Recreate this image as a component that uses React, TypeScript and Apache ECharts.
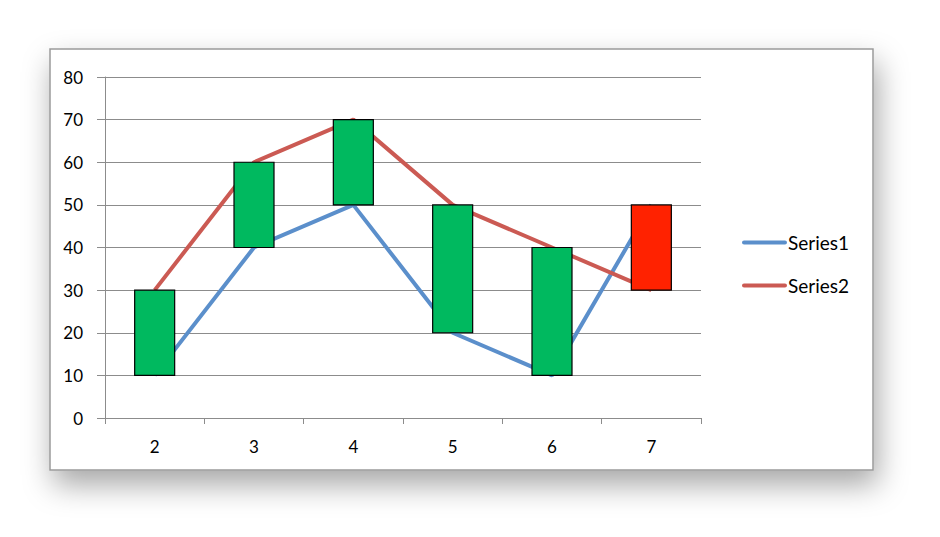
import React, { useEffect, useRef } from "react";
import * as echarts from "echarts";

const categories = ["2", "3", "4", "5", "6", "7"];
const series1 = [10, 40, 50, 20, 10, 50];
const series2 = [30, 60, 70, 50, 40, 30];
const yTicks = { min: 0, max: 80, interval: 10 };

const FONT = "Lato, 'Open Sans', sans-serif";
const LINE_ICON = "path://M2,0 L42,0 A2,2 0 0 1 42,4 L2,4 A2,2 0 0 1 2,0 Z";

export default function App() {
  const ref = useRef<HTMLDivElement>(null);
  useEffect(() => {
    if (!ref.current) return;
    const chart = echarts.init(ref.current, undefined, { renderer: "svg" });
    const barData = categories.map((c, i) => [i, series1[i], series2[i]]);
    const legendBase = {
      orient: "vertical",
      left: 737,
      itemWidth: 45,
      itemHeight: 4.5,
      icon: LINE_ICON,
      textStyle: { color: "#000", fontSize: 19, fontFamily: FONT, padding: [0, 0, 0, -4] },
    };
    chart.setOption({
      animation: false,
      backgroundColor: "#ffffff",
      graphic: [
        {
          type: "rect",
          z: -10,
          silent: true,
          shape: { x: 50, y: 49, width: 823, height: 421 },
          style: {
            fill: "#ffffff",
            stroke: "#9a9a9a",
            lineWidth: 1.5,
            shadowBlur: 30,
            shadowOffsetX: 4,
            shadowOffsetY: 14,
            shadowColor: "rgba(0,0,0,0.35)",
          },
        },
      ],
      grid: { left: 105, right: 239, top: 77, bottom: 119, containLabel: false },
      xAxis: {
        type: "category",
        data: categories,
        boundaryGap: true,
        axisLine: { show: true, lineStyle: { color: "#8c8c8c", width: 1 } },
        axisTick: { show: true, length: 6, lineStyle: { color: "#8c8c8c" } },
        axisLabel: { color: "#000", fontSize: 17, fontFamily: FONT, margin: 20 },
        splitLine: { show: false },
      },
      yAxis: {
        type: "value",
        min: yTicks.min,
        max: yTicks.max,
        interval: yTicks.interval,
        axisLine: { show: true, lineStyle: { color: "#8c8c8c", width: 1 } },
        axisTick: { show: true, length: 8, lineStyle: { color: "#8c8c8c" } },
        axisLabel: {
          color: "#000",
          fontSize: 17,
          fontFamily: FONT,
          margin: 22,
          padding: [4, 0, 0, 0],
        },
        splitLine: { show: true, lineStyle: { color: "#8c8c8c", width: 1 } },
      },
      legend: [
        { ...legendBase, top: 228, data: ["Series1"] },
        { ...legendBase, top: 271, data: ["Series2"] },
      ],
      series: [
        {
          name: "Series1",
          type: "line",
          data: series1,
          symbol: "none",
          lineStyle: { color: "#5B8FCB", width: 4 },
          itemStyle: { color: "#5B8FCB" },
          z: 2,
        },
        {
          name: "Series2",
          type: "line",
          data: series2,
          symbol: "none",
          lineStyle: { color: "#CB5A53", width: 4 },
          itemStyle: { color: "#CB5A53" },
          z: 2,
        },
        {
          name: "UpDown",
          type: "custom",
          z: 5,
          data: barData,
          encode: { x: 0, y: [1, 2] },
          renderItem: (params: any, api: any) => {
            const idx = api.value(0);
            const a = api.value(1);
            const b = api.value(2);
            const pLow = api.coord([idx, Math.min(a, b)]);
            const pHigh = api.coord([idx, Math.max(a, b)]);
            const w = 40;
            return {
              type: "rect",
              shape: { x: pLow[0] - w / 2, y: pHigh[1], width: w, height: pLow[1] - pHigh[1] },
              style: { fill: b >= a ? "#00B95F" : "#FF2200", stroke: "#000", lineWidth: 1.2 },
            };
          },
        },
      ],
    });
    return () => chart.dispose();
  }, []);
  return (
    <div
      ref={ref}
      style={{ position: "absolute", left: 0, top: 0, width: 940, height: 537 }}
    />
  );
}
